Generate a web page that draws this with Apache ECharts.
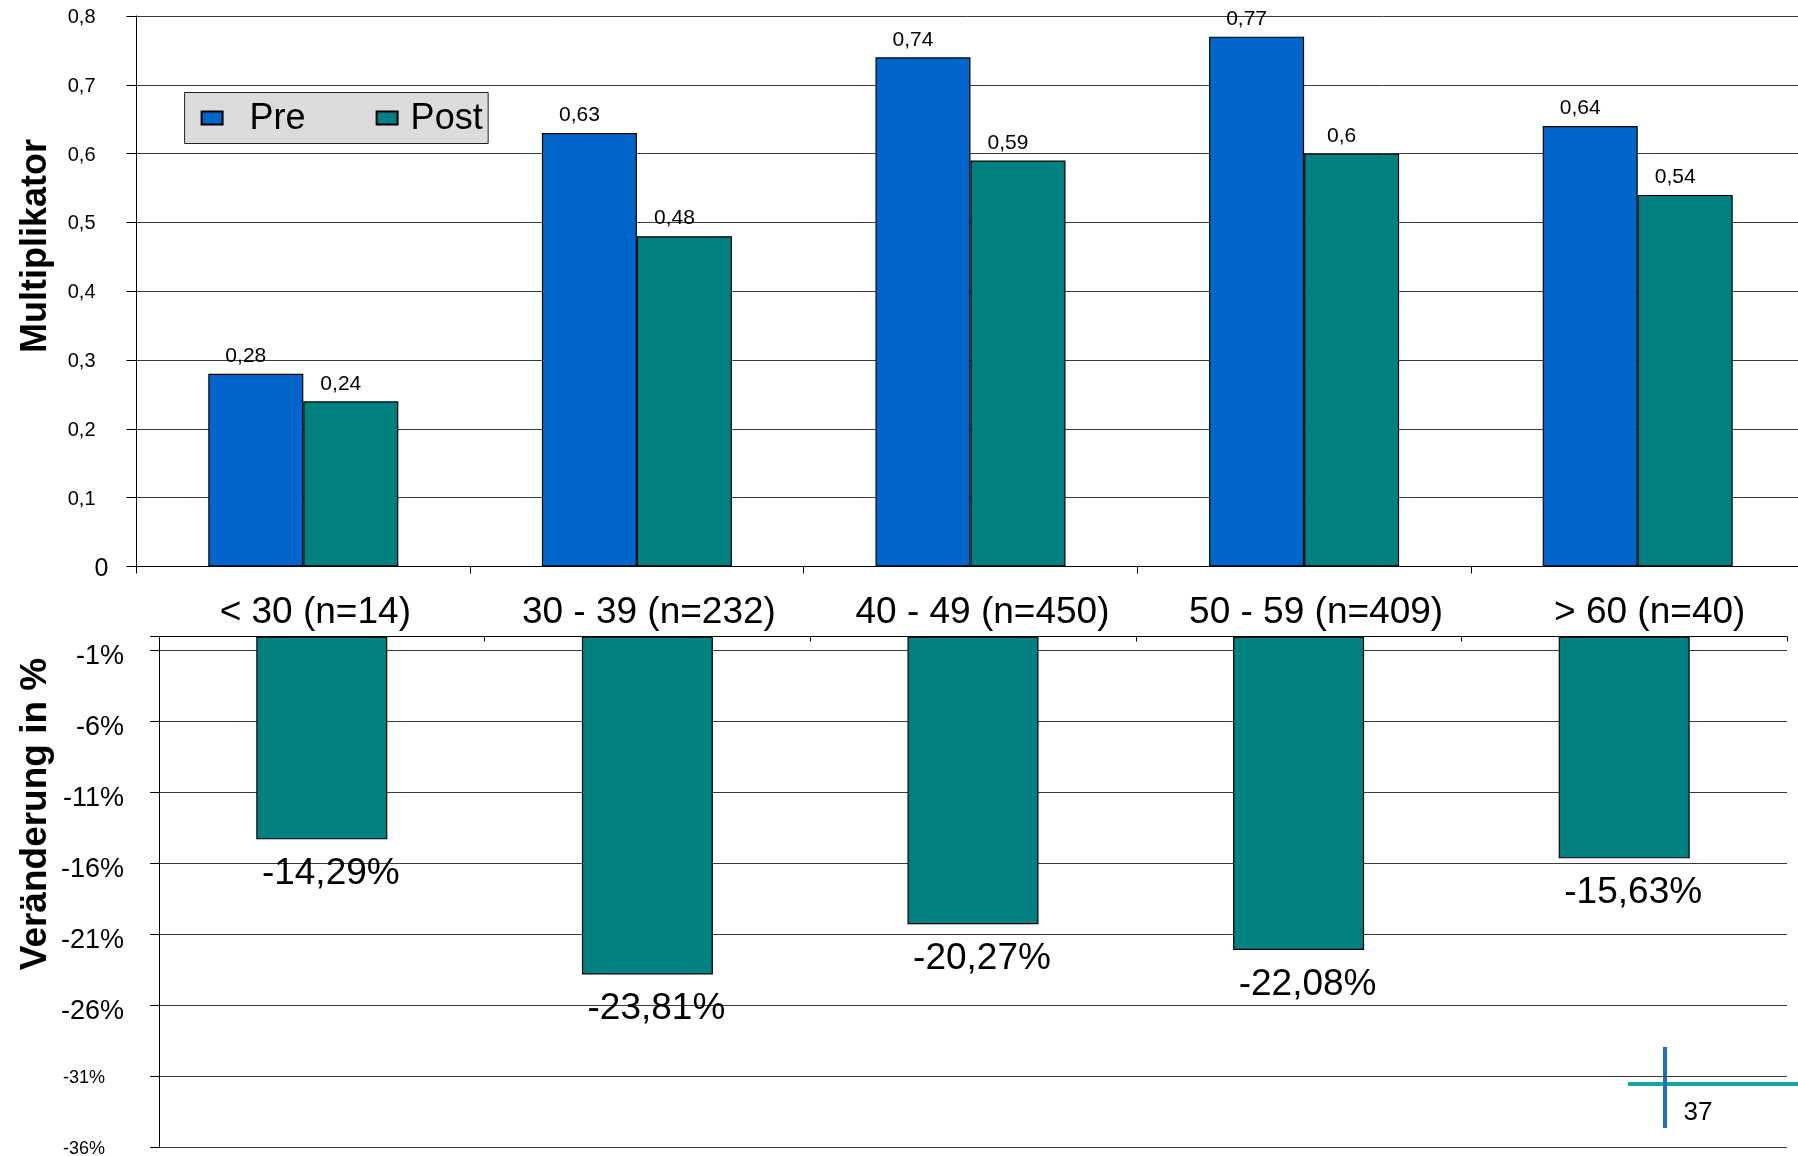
<!DOCTYPE html>
<html>
<head>
<meta charset="utf-8">
<script src="https://cdn.jsdelivr.net/npm/echarts@6/dist/echarts.min.js"></script>
<style>
html,body{margin:0;padding:0;background:#fff;}
#chart{width:1798px;height:1156px;}
</style>
</head>
<body>
<div id="chart"></div>
<script>
const categories = ['< 30 (n=14)', '30 - 39 (n=232)', '40 - 49 (n=450)', '50 - 59 (n=409)', '> 60 (n=40)'];
const preValues = [0.28, 0.63, 0.74, 0.77, 0.64];
const postValues = [0.24, 0.48, 0.59, 0.6, 0.54];
const changeValues = [-14.29, -23.81, -20.27, -22.08, -15.63];
const seriesNames = ['Pre', 'Post'];
const yTitleTop = 'Multiplikator';
const yTitleBottom = 'Veränderung in %';
const pageNumber = '37';

const FF = '"Liberation Sans", Arial, Helvetica, sans-serif';
const chart = echarts.init(document.getElementById('chart'), null, {renderer: 'canvas'});

const option = {
  animation: false,
  backgroundColor: '#ffffff',
  textStyle: {fontFamily: FF, color: '#000'},
  legend: {
    data: seriesNames,
    left: 184.6, top: 92.5,
    orient: 'horizontal',
    selectedMode: false,
    backgroundColor: '#dcdcdc',
    borderColor: '#222',
    borderWidth: 1,
    padding: [6, 5.5, 6, 16],
    itemGap: 70,
    itemWidth: 21,
    itemHeight: 13,
    icon: 'rect',
    formatter: function (name) { return name === 'Pre' ? '{p|' + name + '}' : '{q|' + name + '}'; },
    textStyle: {
      fontFamily: FF, fontSize: 36, color: '#000', lineHeight: 36,
      rich: {
        p: {fontFamily: FF, fontSize: 36, color: '#000', lineHeight: 36, padding: [3, 0, 0, 22]},
        q: {fontFamily: FF, fontSize: 36, color: '#000', lineHeight: 36, padding: [3, 0, 0, 8]}
      }
    }
  },
  grid: [
    {left: 136.5, top: 16, width: 1668, height: 550.5, containLabel: false, outerBoundsMode: 'none'},
    {left: 159, top: 636.5, width: 1628, height: 511, containLabel: false, outerBoundsMode: 'none'}
  ],
  xAxis: [
    {
      type: 'category', gridIndex: 0, data: categories,
      axisLine: {show: true, lineStyle: {color: '#000', width: 1}},
      axisTick: {show: true, inside: false, length: 7, lineStyle: {color: '#000'}},
      axisLabel: {fontFamily: FF, fontSize: 37, color: '#000', margin: 28, interval: 0, padding: [0, 0, 0, 24]},
      splitLine: {show: false}
    },
    {
      type: 'category', gridIndex: 1, data: categories, position: 'top',
      axisLine: {show: true, onZero: true, lineStyle: {color: '#000', width: 1}},
      axisTick: {show: true, inside: true, length: 5, lineStyle: {color: '#000'}},
      axisLabel: {show: false},
      splitLine: {show: false}
    }
  ],
  yAxis: [
    {
      type: 'value', gridIndex: 0, min: 0, max: 0.8, interval: 0.1,
      axisLine: {show: true, lineStyle: {color: '#000', width: 1}},
      axisTick: {show: true, inside: false, length: 10, lineStyle: {color: '#000'}},
      axisLabel: {
        fontFamily: FF, color: '#000', margin: 28,
        formatter: function (v) { return Math.abs(v) < 1e-9 ? '{z|0}' : '{n|' + v.toFixed(1).replace('.', ',') + '}'; },
        rich: {
          z: {fontFamily: FF, fontSize: 25, color: '#000', padding: [6, 0, 0, 0]},
          n: {fontFamily: FF, fontSize: 20, color: '#000', padding: [3, 13, 0, 0]}
        }
      },
      splitLine: {show: true, lineStyle: {color: '#3a3a3a', width: 1}}
    },
    {
      type: 'value', gridIndex: 1, min: -36, max: 0, interval: 5,
      axisLine: {show: true, lineStyle: {color: '#000', width: 1}},
      axisTick: {show: true, inside: false, length: 9, lineStyle: {color: '#000'}},
      axisLabel: {
        fontFamily: FF, color: '#000', margin: 35,
        formatter: function (v) {
          if (Math.abs(v) < 1e-9) return '';
          const s = Math.round(v) + '%';
          return v <= -31 ? '{s|' + s + '}' : '{b|' + s + '}';
        },
        rich: {
          b: {fontFamily: FF, fontSize: 27, color: '#000', padding: [12, 0, 0, 0]},
          s: {fontFamily: FF, fontSize: 18, color: '#000', padding: [4, 19, 0, 0]}
        }
      },
      splitLine: {show: true, lineStyle: {color: '#3a3a3a', width: 1}}
    }
  ],
  series: [
    {
      name: 'Pre', type: 'bar', xAxisIndex: 0, yAxisIndex: 0,
      data: preValues, barWidth: 95, barGap: '0%',
      itemStyle: {color: '#0066CC', borderColor: '#000', borderWidth: 1.2},
      label: {
        show: true, position: 'top', distance: 7, offset: [-10, 0],
        fontFamily: FF, fontSize: 21, color: '#000',
        formatter: function (p) { return String(p.value).replace('.', ','); }
      }
    },
    {
      name: 'Post', type: 'bar', xAxisIndex: 0, yAxisIndex: 0,
      data: postValues, barWidth: 95, barGap: '0%',
      itemStyle: {color: '#008080', borderColor: '#000', borderWidth: 1.2},
      label: {
        show: true, position: 'top', distance: 7, offset: [-10, 0],
        fontFamily: FF, fontSize: 21, color: '#000',
        formatter: function (p) { return String(p.value).replace('.', ','); }
      }
    },
    {
      name: 'Veränderung', type: 'bar', xAxisIndex: 1, yAxisIndex: 1,
      data: changeValues, barWidth: 131,
      itemStyle: {color: '#008080', borderColor: '#000', borderWidth: 1.2},
      label: {
        show: true, position: 'bottom', distance: 14, offset: [9, 2],
        fontFamily: FF, fontSize: 37, color: '#000',
        formatter: function (p) { return p.value.toFixed(2).replace('.', ',') + '%'; }
      }
    }
  ],
  graphic: [
    {
      type: 'text', x: 36, y: 246, rotation: Math.PI / 2,
      style: {text: yTitleTop, fontFamily: FF, fontSize: 36, fontWeight: 'bold', fill: '#000', align: 'center', verticalAlign: 'middle'}
    },
    {
      type: 'text', x: 36, y: 814, rotation: Math.PI / 2,
      style: {text: yTitleBottom, fontFamily: FF, fontSize: 37, fontWeight: 'bold', fill: '#000', align: 'center', verticalAlign: 'middle'}
    },
    {
      type: 'line', shape: {x1: 1628, y1: 1084, x2: 1798, y2: 1084},
      style: {stroke: '#13a89e', lineWidth: 4}
    },
    {
      type: 'line', shape: {x1: 1665, y1: 1047, x2: 1665, y2: 1128},
      style: {stroke: '#1f72c2', lineWidth: 4}
    },
    {
      type: 'text', x: 1698, y: 1113,
      style: {text: pageNumber, fontFamily: FF, fontSize: 26, fill: '#000', align: 'center', verticalAlign: 'middle'}
    }
  ]
};
chart.setOption(option);
</script>
</body>
</html>
